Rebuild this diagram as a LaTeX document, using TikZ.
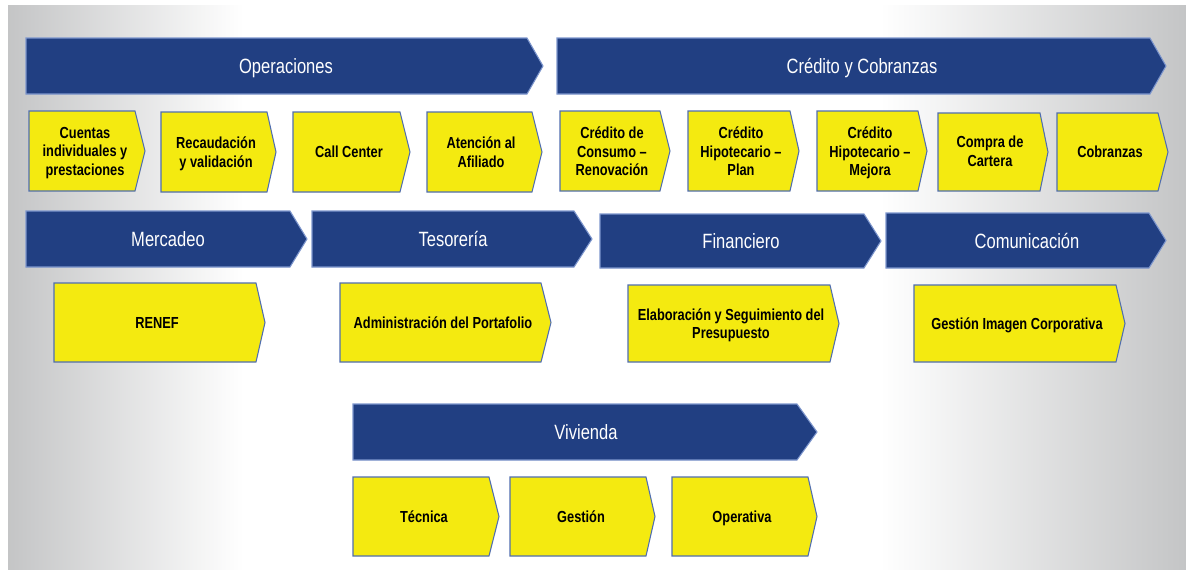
\documentclass[tikz,border=0pt]{standalone}
\usepackage{fontspec}
\usepackage{tikz}
\newfontfamily\narrowsans{Liberation Sans}[FakeStretch=0.8]
\definecolor{bannerblue}{RGB}{33,63,130}
\definecolor{bannerrim}{RGB}{125,150,205}
\definecolor{tileyellow}{RGB}{244,234,16}
\definecolor{tilerim}{RGB}{80,110,176}
\definecolor{bgedge}{RGB}{196,197,198}
\pgfdeclarehorizontalshading{bgfade}{100bp}{color(0bp)=(bgedge); color(25bp)=(bgedge); color(35bp)=(white); color(62bp)=(white); color(75bp)=(bgedge); color(100bp)=(bgedge)}

\begin{document}
\begin{tikzpicture}[x=0.75pt,y=0.75pt,yscale=-1,xscale=1,
	banner/.style={fill=bannerblue,draw=bannerrim,line width=0.8pt,line join=miter},
	tile/.style={fill=tileyellow,draw=tilerim,line width=0.8pt,line join=miter},
	bannertext/.style={inner sep=0.75pt,text depth=0.22em,yshift=-1.2pt,text=white,align=center,font=\narrowsans\fontsize{15.5}{17}\selectfont},
	tiletext/.style={inner sep=0.75pt,text depth=0.22em,yshift=-1.2pt,text=black,align=center,font=\narrowsans\bfseries\fontsize{12}{13.8}\selectfont}]
			\useasboundingbox (0,0) rectangle (1186,569);
			
			%Shape: Background
			\shade [shading=bgfade] (8,5) rectangle (1186,569);
			
			%Shape: Banner Operaciones
			\draw [banner] (26,38) -- (527,38) -- (543,66) -- (527,94) -- (26,94) -- cycle ;
			%Shape: Banner Credito
			\draw [banner] (557,38) -- (1150,38) -- (1166,66) -- (1150,94) -- (557,94) -- cycle ;
			%Shape: Banner Mercadeo
			\draw [banner] (26,211) -- (290,211) -- (307,239) -- (290,267) -- (26,267) -- cycle ;
			%Shape: Banner Tesoreria
			\draw [banner] (312,211) -- (574,211) -- (592,239) -- (574,267) -- (312,267) -- cycle ;
			%Shape: Banner Financiero
			\draw [banner] (600,214) -- (864,214) -- (881,241) -- (864,268) -- (600,268) -- cycle ;
			%Shape: Banner Comunicacion
			\draw [banner] (886,213) -- (1149,213) -- (1166,240.5) -- (1149,268) -- (886,268) -- cycle ;
			%Shape: Banner Vivienda
			\draw [banner] (353,404) -- (797,404) -- (817,432) -- (797,460) -- (353,460) -- cycle ;
			
			%Shape: Tiles row 1
			\draw [tile] (29,111) -- (135,111) -- (145,151) -- (135,191) -- (29,191) -- cycle ;
			\draw [tile] (161,112) -- (267,112) -- (276,152) -- (267,192) -- (161,192) -- cycle ;
			\draw [tile] (293,112) -- (400,112) -- (410,152) -- (400,192) -- (293,192) -- cycle ;
			\draw [tile] (427,112) -- (532,112) -- (542,152) -- (532,192) -- (427,192) -- cycle ;
			\draw [tile] (560,111) -- (660,111) -- (670,151) -- (660,191) -- (560,191) -- cycle ;
			\draw [tile] (688,111) -- (790,111) -- (799,151) -- (790,191) -- (688,191) -- cycle ;
			\draw [tile] (817,111) -- (918,111) -- (927,151) -- (918,191) -- (817,191) -- cycle ;
			\draw [tile] (938,113) -- (1040,113) -- (1048,152) -- (1040,191) -- (938,191) -- cycle ;
			\draw [tile] (1057,113) -- (1158,113) -- (1168,152) -- (1158,191) -- (1057,191) -- cycle ;
			%Shape: Tiles row 2
			\draw [tile] (54,283) -- (256,283) -- (265,322.5) -- (256,362) -- (54,362) -- cycle ;
			\draw [tile] (340,283) -- (541,283) -- (551,322.5) -- (541,362) -- (340,362) -- cycle ;
			\draw [tile] (628,285) -- (830,285) -- (839,323.5) -- (830,362) -- (628,362) -- cycle ;
			\draw [tile] (914,285) -- (1116,285) -- (1125,323.5) -- (1116,362) -- (914,362) -- cycle ;
			%Shape: Tiles row 3
			\draw [tile] (353,477) -- (489,477) -- (499,516.5) -- (489,556) -- (353,556) -- cycle ;
			\draw [tile] (510,477) -- (646,477) -- (655,516.5) -- (646,556) -- (510,556) -- cycle ;
			\draw [tile] (672,477) -- (808,477) -- (817,516.5) -- (808,556) -- (672,556) -- cycle ;
			
			% Text Node
			\draw (286,66) node (operaciones) [bannertext] {Operaciones};
			% Text Node
			\draw (862,66) node (credito) [bannertext] {Crédito y Cobranzas};
			% Text Node
			\draw (168,239) node (mercadeo) [bannertext] {Mercadeo};
			% Text Node
			\draw (453,239) node (tesoreria) [bannertext] {Tesorería};
			% Text Node
			\draw (741,241) node (financiero) [bannertext] {Financiero};
			% Text Node
			\draw (1027,240.5) node (comunicacion) [bannertext] {Comunicación};
			% Text Node
			\draw (586,432) node (vivienda) [bannertext] {Vivienda};
			
			% Text Node
			\draw (85,151) node (cuentas) [tiletext] {Cuentas\\individuales y\\prestaciones};
			% Text Node
			\draw (216,152) node (recaudacion) [tiletext] {Recaudación\\y validación};
			% Text Node
			\draw (349,152) node (callcenter) [tiletext] {Call Center};
			% Text Node
			\draw (481,152) node (atencion) [tiletext] {Atención al\\Afiliado};
			% Text Node
			\draw (612,151) node (consumo) [tiletext] {Crédito de\\Consumo –\\Renovación};
			% Text Node
			\draw (741,151) node (hipoplan) [tiletext] {Crédito\\Hipotecario –\\Plan};
			% Text Node
			\draw (870,151) node (hipomejora) [tiletext] {Crédito\\Hipotecario –\\Mejora};
			% Text Node
			\draw (990,151) node (compra) [tiletext] {Compra de\\Cartera};
			% Text Node
			\draw (1110,152) node (cobranzas) [tiletext] {Cobranzas};
			% Text Node
			\draw (157,322.5) node (renef) [tiletext] {RENEF};
			% Text Node
			\draw (443,322.5) node (portafolio) [tiletext] {Administración del Portafolio};
			% Text Node
			\draw (731,323.5) node (presupuesto) [tiletext] {Elaboración y Seguimiento del\\Presupuesto};
			% Text Node
			\draw (1017,323.5) node (imagen) [tiletext] {Gestión Imagen Corporativa};
			% Text Node
			\draw (424,516.5) node (tecnica) [tiletext] {Técnica};
			% Text Node
			\draw (581,516.5) node (gestion) [tiletext] {Gestión};
			% Text Node
			\draw (742,516.5) node (operativa) [tiletext] {Operativa};
			
			\end{tikzpicture}
\end{document}
